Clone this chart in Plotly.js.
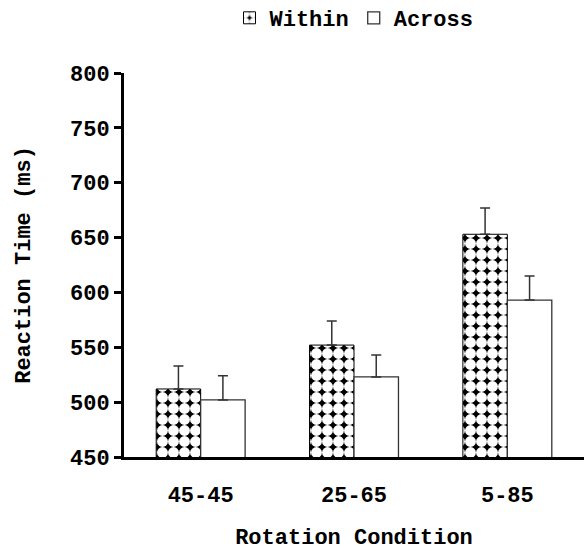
<!DOCTYPE html>
<html>
<head>
<meta charset="utf-8">
<script src="https://cdn.plot.ly/plotly-3.0.1.min.js"></script>
<style>html,body{margin:0;padding:0;background:#fff;}#chart{width:584px;height:551px;}</style>
</head>
<body>
<div id="chart"></div>
<script>
const categories = ["45-45", "25-65", "5-85"];
const withinRT = [512, 552, 653];
const withinErr = [21, 22, 24];
const acrossRT = [502, 523, 593];
const acrossErr = [22, 20, 22];
const yTicks = [450, 500, 550, 600, 650, 700, 750, 800];

const FONT = "'Liberation Mono', 'Courier New', monospace";

const traces = [
  {
    type: "bar", name: "Within", x: categories, y: withinRT,
    marker: {
      color: "white",
      line: {color: "black", width: 1},
      pattern: {shape: ".", bgcolor: "black", fgcolor: "white", size: 11, solidity: 0.77}
    },
    error_y: {type: "data", array: withinErr, arrayminus: withinErr.map(() => 0), symmetric: false,
              color: "#333", thickness: 1.5, width: 5}
  },
  {
    type: "bar", name: "Across", x: categories, y: acrossRT,
    marker: {color: "white", line: {color: "#333", width: 1.3}},
    error_y: {type: "data", array: acrossErr, arrayminus: acrossErr.map(() => 0), symmetric: false,
              color: "#333", thickness: 1.5, width: 5}
  }
];

const layout = {
  width: 584, height: 551,
  margin: {l: 124, r: 0, t: 73, b: 94, autoexpand: false},
  paper_bgcolor: "white", plot_bgcolor: "white",
  font: {family: FONT, size: 22, color: "black", weight: "bold"},
  barmode: "group", bargap: 0.42, bargroupgap: 0,
  showlegend: true,
  legend: {orientation: "h", x: 0.5, xanchor: "center", y: 1 + (73 - 18) / 384, yanchor: "middle",
           font: {family: FONT, size: 22, weight: "bold"}, itemwidth: 20, tracegroupgap: 0},
  xaxis: {
    type: "category", range: [-0.5, 2.5],
    showline: true, linecolor: "black", linewidth: 3,
    ticks: "", showgrid: false, zeroline: false,
    ticklabelstandoff: 16,
    tickfont: {family: FONT, size: 22, weight: "bold"},
    title: {text: "Rotation Condition", font: {family: FONT, size: 22, weight: "bold"}, standoff: 30}
  },
  yaxis: {
    range: [450, 800], tickvals: yTicks, ticktext: yTicks.map(String),
    showline: true, linecolor: "black", linewidth: 3,
    ticks: "outside", ticklen: 7, tickwidth: 3, tickcolor: "black",
    showgrid: false, zeroline: false,
    tickfont: {family: FONT, size: 22, weight: "bold"},
    title: {text: "Reaction Time (ms)", font: {family: FONT, size: 22, weight: "bold"}, standoff: 34}
  }
};

Plotly.newPlot("chart", traces, layout, {displayModeBar: false, staticPlot: true});
</script>
</body>
</html>
